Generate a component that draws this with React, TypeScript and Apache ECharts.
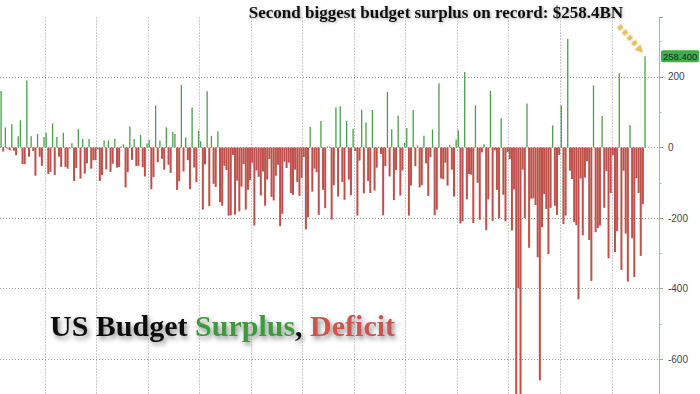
import React, { useEffect, useRef } from 'react';
import * as echarts from 'echarts';

// Monthly US federal budget balance, $BN (surplus +, deficit -)
const bal2000 = [160, -11, 57, -3, -8, 66, -9, -22, 32]; // Apr-Dec
const bal2001 = [77, -47, -47, 190, -26, 32, -10, -80, 38, -26, -52, 30];
const bal2002 = [42, -75, -69, 68, -78, 30, -26, -55, 42, -55, -60, -3];
const bal2003 = [12, -95, -58, 52, -88, 24, -74, -45, 24, -60, -36, -36];
const bal2004 = [-5, -95, -78, 20, -62, 20, -69, -46, 25, -57, -55, 3];
const bal2005 = [9, -113, -70, 60, -35, 24, -52, -52, 35, -56, -82, 11];
const bal2006 = [21, -118, -84, 119, -42, 20, -32, -63, 57, -49, -72, 44];
const bal2007 = [38, -120, -96, 177, -68, 28, -36, -118, 113, -57, -98, 48];
const bal2008 = [18, -176, -48, 159, -166, 33, -103, -112, 46, -155, -165, -52];
const bal2009 = [-64, -193, -192, -21, -190, -94, -181, -111, -47, -176, -120, -92];
const bal2010 = [-43, -221, -65, -83, -136, -68, -165, -91, -33, -140, -150, -80];
const bal2011 = [-49, -223, -188, -40, -58, -43, -129, -134, -63, -98, -137, -86];
const bal2012 = [-27, -232, -198, 59, -125, -60, -70, -191, 75, -120, -172, 3];
const bal2013 = [3, -204, -107, 113, -139, 117, -98, -148, 75, -91, -135, 53];
const bal2014 = [-10, -193, -37, 107, -130, 71, -95, -129, 106, -122, -57, 2];
const bal2015 = [-18, -192, -53, 157, -82, 52, -149, -64, 91, -136, -65, 14];
const bal2016 = [55, -193, -108, 106, -53, 6, -113, -107, 33, -45, -137, -27];
const bal2017 = [51, -192, -176, 182, -88, -90, -43, -108, 8, -63, -139, 23];
const bal2018 = [49, -215, -209, 214, -147, -75, -77, -214, 119, -100, -205, -14];
const bal2019 = [9, -234, -147, 160, -208, -8, -120, -200, 83, -134, -209, -13];
const bal2020 = [-33, -235, -119, -738, -399, -864, -63, -200, 125, -284, -145, -144];
const bal2021 = [-163, -311, -660, -226, -132, -174, -302, -171, 62, -165, -191, -21];
const bal2022 = [119, -217, -193, 308, -66, -89, -211, -220, -430, -88, -249, -85];
const bal2023 = [-39, -262, -378, 176, -240, -228, -221, 89, -171, -67, -314, -129];
const bal2024 = [-22, -296, -237, 210, -347, -66, -244, -380, 64, -257, -367, -87];
const bal2025 = [-129, -307, -161, 258.4]; // Jan-Apr

const yTickLabels = ['200', '0', '-200', '-400', '-600'];
const latestValue = 258.4;
const headline = 'Second biggest budget surplus on record: $258.4BN';

export default function App() {
  const ref = useRef<HTMLDivElement>(null);

  useEffect(() => {
    document.body.style.margin = '0';
    if (!ref.current) return;
    const chart = echarts.init(ref.current, undefined, { renderer: 'svg' });

    const values: (number | null)[] = [
      ...bal2000, ...bal2001, ...bal2002, ...bal2003, ...bal2004, ...bal2005,
      ...bal2006, ...bal2007, ...bal2008, ...bal2009, ...bal2010, ...bal2011,
      ...bal2012, ...bal2013, ...bal2014, ...bal2015, ...bal2016, ...bal2017,
      ...bal2018, ...bal2019, ...bal2020, ...bal2021, ...bal2022, ...bal2023,
      ...bal2024, ...bal2025,
    ];
    // empty months to the end of FY2025
    while (values.length < 307) values.push(null);

    const categories: string[] = [];
    let y = 2000;
    let m = 4;
    for (let i = 0; i < values.length; i++) {
      categories.push(`${y}-${String(m).padStart(2, '0')}`);
      m++;
      if (m > 12) { m = 1; y++; }
    }

    const pos = values.map((v) => (v !== null && v > 0 ? v : null));
    const neg = values.map((v) => (v !== null && v < 0 ? v : null));

    const band = 2.15;
    const gridLeft = -band / 2;
    const gridWidth = band * values.length;
    const pxPerUnit = 0.353;
    const yMax = 368;
    const yMin = -800;
    const zeroY = 147.5;
    const gridTop = zeroY - yMax * pxPerUnit;
    const gridHeight = (yMax - yMin) * pxPerUnit;

    const gridColor = '#9a9a9a';
    const titleShadow = {
      textShadowColor: 'rgba(0,0,0,0.45)',
      textShadowBlur: 5,
      textShadowOffsetX: 2,
      textShadowOffsetY: 3,
    };
    const titleFont = 'bold 30px "Liberation Serif", "Times New Roman", serif';

    chart.setOption({
      animation: false,
      backgroundColor: '#ffffff',
      grid: {
        left: gridLeft,
        width: gridWidth,
        top: gridTop,
        height: gridHeight,
      },
      xAxis: [
        {
          type: 'category',
          data: categories,
          boundaryGap: true,
          axisLine: { show: false },
          axisTick: { show: false },
          axisLabel: { show: false },
          splitLine: {
            show: true,
            interval: (index: number, value: string) => {
              const [yy, mm] = value.split('-');
              return mm === '01' && Number(yy) % 2 === 0;
            },
            lineStyle: { color: gridColor, type: [1, 2], width: 1 },
          },
        },
        {
          type: 'category',
          data: categories,
          show: false,
        },
      ],
      yAxis: {
        type: 'value',
        position: 'right',
        min: yMin,
        max: yMax,
        interval: 200,
        axisLine: { show: true, lineStyle: { color: '#a3bba3', width: 1 } },
        axisTick: { show: true, inside: false, length: 4, lineStyle: { color: '#8fa88f' } },
        minorTick: { show: true, splitNumber: 2, length: 3, lineStyle: { color: '#b5c5b5' } },
        axisLabel: {
          show: true,
          margin: 9,
          color: '#444',
          fontSize: 10,
          fontFamily: 'Liberation Sans, Arial, sans-serif',
          showMaxLabel: false,
          formatter: (v: number) => (yTickLabels.includes(String(v)) ? String(v) : ''),
        },
        splitLine: {
          show: true,
          showMaxLine: false,
          lineStyle: { color: gridColor, type: [1, 2], width: 1 },
        },
      },
      series: [
        {
          name: 'Deficit',
          type: 'bar',
          xAxisIndex: 0,
          data: neg,
          barWidth: 2,
          itemStyle: { color: '#bf4f4a' },
        },
        {
          name: 'Surplus',
          type: 'bar',
          xAxisIndex: 1,
          data: pos,
          barWidth: 1.3,
          itemStyle: { color: '#4c9c4c' },
          markLine: {
            silent: true,
            symbol: 'none',
            lineStyle: { width: 0, color: 'rgba(0,0,0,0)' },
            data: [{ yAxis: latestValue }],
            label: {
              show: true,
              position: 'end',
              distance: 2,
              formatter: '258.400',
              backgroundColor: '#3fae46',
              color: '#1d2b1d',
              fontSize: 9.5,
              fontFamily: 'Liberation Sans, Arial, sans-serif',
              padding: [1, 2, 1, 2],
              borderRadius: 2,
            },
          },
        },
      ],
      graphic: [
        {
          type: 'text',
          right: 77,
          top: 4,
          style: {
            text: headline,
            font: 'bold 17px "Liberation Serif", "Times New Roman", serif',
            fill: '#111',
            textShadowColor: 'rgba(0,0,0,0.35)',
            textShadowBlur: 3,
            textShadowOffsetX: 1,
            textShadowOffsetY: 1,
          },
        },
        {
          type: 'line',
          shape: { x1: 619, y1: 26, x2: 638, y2: 47 },
          style: {
            stroke: '#e9c15c',
            lineWidth: 5,
            lineDash: [4, 3],
            shadowColor: 'rgba(0,0,0,0.25)',
            shadowBlur: 2,
          },
        },
        {
          type: 'polygon',
          shape: { points: [[643, 53], [634.6, 49.8], [640.6, 44.4]] },
          style: { fill: '#e9c15c' },
        },
        {
          type: 'text',
          left: 50,
          top: 310,
          style: {
            text: '{a|US Budget }{b|Surplus}{a|, }{c|Deficit}',
            rich: {
              a: { font: titleFont, fill: '#0d0d0d', ...titleShadow },
              b: { font: titleFont, fill: '#3c9a3c', ...titleShadow },
              c: { font: titleFont, fill: '#c9574f', ...titleShadow },
            },
          },
        },
      ],
    });

    return () => chart.dispose();
  }, []);

  return (
    <div style={{ width: 700, height: 394, overflow: 'hidden', position: 'relative' }}>
      <div ref={ref} style={{ width: 700, height: 432 }} />
    </div>
  );
}
